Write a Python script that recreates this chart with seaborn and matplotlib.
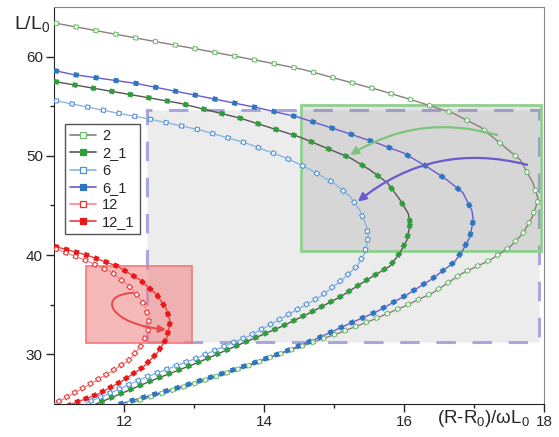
import numpy as np
import pandas as pd
import matplotlib.pyplot as plt
import seaborn as sns
from matplotlib.patches import Rectangle, FancyArrowPatch
from matplotlib.path import Path
from matplotlib.lines import Line2D

# values: x = (R-R0)/wL0, y = L/L0
x_2 = [11.0, 12.46, 13.09, 13.99, 14.56, 15.13, 15.66, 16.13, 16.70, 17.09, 17.37, 17.66, 17.84, 17.92,
       17.83, 17.70, 17.51, 17.23, 16.84, 16.41, 15.99, 15.56, 15.09, 14.61, 14.09, 13.84, 13.03, 12.56, 12.09, 11.9]
y_2 = [63.4, 61.5, 60.7, 59.5, 58.7, 57.6, 56.6, 55.6, 54.3, 52.9, 51.3, 49.6, 47.3, 45.6,
       43.8, 42.2, 40.8, 39.5, 38.2, 36.2, 34.8, 33.5, 32.2, 31.0, 29.7, 29.0, 27.1, 26.1, 25.1, 24.7]

x_2_1 = [11.0, 11.99, 12.8, 13.66, 14.51, 15.23, 15.51, 15.76, 15.94, 16.06, 16.09, 16.04, 15.94, 15.80,
         15.47, 15.09, 14.66, 14.25, 13.62, 13.03, 12.41, 11.84, 11.6]
y_2_1 = [57.5, 56.3, 55.3, 53.8, 51.9, 49.8, 48.6, 47.3, 45.6, 44.2, 43.2, 41.5, 40.2, 38.9,
         37.5, 35.8, 34.2, 32.8, 30.9, 29.1, 27.4, 25.7, 25.0]

x_6 = [11.0, 11.84, 12.37, 13.09, 13.74, 14.31, 14.61, 14.99, 15.23, 15.37, 15.47, 15.49, 15.44, 15.33,
       15.13, 14.80, 14.47, 14.09, 13.80, 13.03, 12.31, 11.8, 11.46]
y_6 = [55.6, 54.4, 53.7, 52.6, 51.3, 49.8, 48.8, 47.3, 45.9, 44.5, 42.8, 41.8, 40.2, 38.9,
       37.6, 35.8, 34.5, 33.0, 31.9, 29.6, 27.7, 26.1, 25.1]

x_6_1 = [11.0, 11.27, 12.17, 13.03, 13.94, 14.49, 15.19, 15.61, 15.99, 16.33, 16.61, 16.84, 16.97, 16.99,
         16.94, 16.84, 16.72, 16.40, 16.04, 15.61, 15.19, 14.76, 14.27, 13.84, 13.46, 12.8, 11.99, 11.9]
y_6_1 = [58.6, 58.2, 57.3, 56.1, 54.8, 53.9, 52.3, 51.3, 50.3, 48.9, 47.6, 46.3, 44.5, 43.5,
         41.8, 40.5, 39.3, 37.6, 36.0, 34.3, 33.0, 31.6, 30.2, 29.1, 28.2, 26.7, 25.1, 24.9]

x_12 = [11.0, 11.48, 11.84, 12.13, 12.29, 12.36, 12.34, 12.24, 12.07, 11.78, 11.44, 11.08, 11.0]
y_12 = [40.7, 39.4, 38.2, 36.5, 35.0, 33.6, 32.2, 30.8, 29.4, 28.1, 26.7, 25.3, 25.0]

x_12_1 = [11.0, 11.47, 11.9, 12.23, 12.47, 12.61, 12.66, 12.61, 12.47, 12.27, 11.97, 11.63, 11.29, 11.2]
y_12_1 = [40.9, 40.0, 38.9, 37.5, 36.0, 34.5, 33.3, 31.6, 30.1, 28.7, 27.3, 26.0, 25.1, 24.8]

labels = ["2", "2_1", "6", "6_1", "12", "12_1"]

sns.set_style("ticks")
plt.rcParams["font.family"] = ["Liberation Sans", "DejaVu Sans"]
plt.rcParams["mathtext.default"] = "regular"
plt.rcParams["lines.scale_dashes"] = False

fig = plt.figure(figsize=(5.59, 4.37), dpi=100)
ax = fig.add_axes([0.0966, 0.0755, 0.8766, 0.9085])

# highlight boxes
ax.add_patch(Rectangle((12.33, 31.2), 5.6, 23.4, facecolor="#ececec", edgecolor="#aaa5dc",
                       lw=2.2, ls=(0, (14, 12)), zorder=1))
ax.add_patch(Rectangle((14.53, 40.4), 3.43, 14.7, facecolor=(0.5, 0.5, 0.5, 0.2), edgecolor="#8fd08f",
                       lw=2, zorder=1.5))
ax.add_patch(Rectangle((11.46, 31.1), 1.51, 7.8, facecolor=(0.94, 0.5, 0.5, 0.55), edgecolor="#f07a7a",
                       lw=1.2, zorder=2.5))

MS = 3.6    # square size, pt
EDGE = 0.75


def squares(px, py, color, filled, period):
    # square symbols laid along the curve every `period` points
    ax.plot(px, py, color=color, lw=MS, ls=(0, (MS, period - MS)), dash_capstyle="butt", zorder=3.5)
    if not filled:
        inner = MS - 2 * EDGE
        ax.plot(px, py, color="white", lw=inner, ls=(period - EDGE, (inner, period - inner)),
                dash_capstyle="butt", zorder=3.6)


styles = [
    (x_2, y_2, "#8c7f7f", "#6cc06c", False, 14.5, 8.2),
    (x_2_1, y_2_1, "#555555", "#2e9e3a", True, 13.5, 7.5),
    (x_6, y_6, "#8ab6e2", "#4f8fd8", False, 11.5, 7.4),
    (x_6_1, y_6_1, "#6a5acd", "#2a78c0", True, 14.5, 8.4),
    (x_12, y_12, "#f28c8c", "#ee3030", False, 7.5, 6.5),
    (x_12_1, y_12_1, "#e84040", "#e81818", True, 7.5, 6.5),
]

handles = []
for (xs, ys, lc, mc, filled, per_up, per_low), lab in zip(styles, labels):
    df = pd.DataFrame({"x": xs, "y": ys})
    sns.lineplot(data=df, x="x", y="y", sort=False, estimator=None, color=lc, lw=1, ax=ax, zorder=3)
    turn = int(np.argmax(xs))
    squares(df["x"][:turn + 1], df["y"][:turn + 1], mc, filled, per_up)
    squares(df["x"][turn:], df["y"][turn:], mc, filled, per_low)
    handles.append(Line2D([], [], color=lc, lw=1.2, marker="s", ms=4, mfc=mc if filled else "white",
                          mec=mc, mew=0.9))

# arrows
ax.annotate("", xy=(15.23, 50.1), xytext=(17.33, 52.1),
            arrowprops=dict(arrowstyle="-|>", color="#7cc47c", lw=1.6, mutation_scale=12,
                            shrinkA=0, shrinkB=0, connectionstyle="arc3,rad=0.22"), zorder=4)
ax.annotate("", xy=(15.34, 45.4), xytext=(17.76, 49.1),
            arrowprops=dict(arrowstyle="-|>", color="#6a5acd", lw=1.6, mutation_scale=12,
                            shrinkA=0, shrinkB=0, connectionstyle="arc3,rad=0.25"), zorder=4)
loop = Path([(12.13, 36.2), (11.59, 36.0), (11.8, 33.0), (12.6, 32.5)],
            [Path.MOVETO, Path.CURVE4, Path.CURVE4, Path.CURVE4])
ax.add_patch(FancyArrowPatch(path=loop, arrowstyle="-|>", color="#e84848", lw=1.4, mutation_scale=11,
                             zorder=4))

ax.set_xlim(11, 18)
ax.set_ylim(25, 65)
ax.set_xticks([12, 14, 16, 18])
ax.set_xticks([13, 15, 17], minor=True)
ax.set_yticks([30, 40, 50, 60])
ax.set_yticks([35, 45, 55], minor=True)
ax.tick_params(which="major", direction="out", length=5.5, width=1, labelsize=11, pad=2.5)
ax.tick_params(which="minor", direction="out", length=3, width=1)
ax.set_xlabel("")
ax.set_ylabel("")
for s in ["left", "bottom"]:
    ax.spines[s].set_color("#222222")
for s in ["top", "right"]:
    ax.spines[s].set_color("#888888")

ax.text(-0.045, 0.957, "L/L$_0$", transform=ax.transAxes, ha="center", va="center", fontsize=14)
ax.text(0.876, -0.037, "(R-R$_0$)/ωL$_0$", transform=ax.transAxes, ha="center", va="center", fontsize=13.5)

leg = ax.legend(handles, labels, loc="upper left", bbox_to_anchor=(0.022, 0.705), borderaxespad=0,
                fontsize=10.5, handlelength=1.8, handletextpad=0.4, labelspacing=0.22,
                fancybox=False, edgecolor="#555555", framealpha=1, borderpad=0.35)
leg.get_frame().set_linewidth(1)
leg.set_zorder(5)

plt.savefig("out.png", dpi=100)
